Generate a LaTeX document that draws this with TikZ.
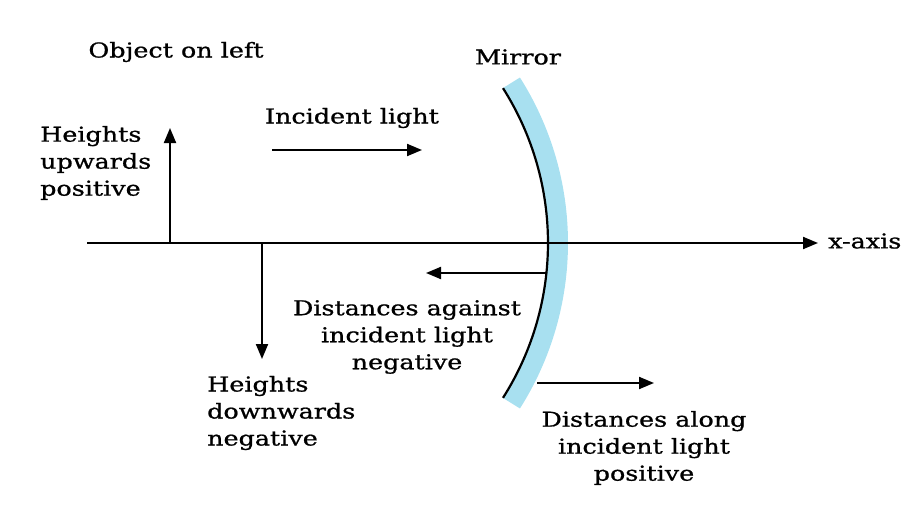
\documentclass[tikz,border=0pt]{standalone}
\usepackage{fontspec}
\setmainfont[FakeStretch=1.24,FakeBold=0.9]{DejaVu Serif}
\usetikzlibrary{arrows.meta}
\definecolor{mirrorblue}{RGB}{168,224,240}
\begin{document}
\begin{tikzpicture}[x=1pt,y=-1pt,
  lab/.style={font=\fontsize{20.5}{27}\selectfont, inner sep=0pt},
  arr/.style={line width=2pt, -{Triangle[length=15pt,width=12pt]}}]
\useasboundingbox (0,0) rectangle (911,511);
% mirror
\coordinate (C) at (259,243);
\draw[mirrorblue, line width=20pt] (C) ++(-32.4:299) arc[start angle=-32.4, end angle=32.4, radius=299];
\draw[line width=2.2pt] (C) ++(-32.4:289) arc[start angle=-32.4, end angle=32.4, radius=289];
% labels
\node[lab] (obj) at (176,52) {Object on left};
\node[lab] (mirror) at (518,57) {Mirror};
\node[lab] (inc) at (352,118) {Incident light};
\node[lab, anchor=west, align=left] (hup) at (40,163) {Heights\\upwards\\positive};
\node[lab, anchor=west, align=left] (hdown) at (207,413) {Heights\\downwards\\negative};
\node[lab, align=center] (dneg) at (407,337) {Distances against\\incident light\\negative};
\node[lab, align=center] (dpos) at (644,448) {Distances along\\incident light\\positive};
\node[lab, anchor=west] (xlab) at (828,241) {x-axis};
% coordinates
\coordinate (axL) at (87,243);
\coordinate (axR) at (818,243);
\coordinate (hu0) at (170,243);
\coordinate (hu1) at (170,128);
\coordinate (hd0) at (262,243);
\coordinate (hd1) at (262,359);
\coordinate (in0) at (272,150);
\coordinate (in1) at (422,150);
\coordinate (dn0) at (546,273);
\coordinate (dn1) at (426,273);
\coordinate (dp0) at (537,383);
\coordinate (dp1) at (654,383);
% arrows
\draw[arr] (axL) -- (axR);
\draw[arr] (hu0) -- (hu1);
\draw[arr] (hd0) -- (hd1);
\draw[arr] (in0) -- (in1);
\draw[arr] (dn0) -- (dn1);
\draw[arr] (dp0) -- (dp1);
\end{tikzpicture}
\end{document}
